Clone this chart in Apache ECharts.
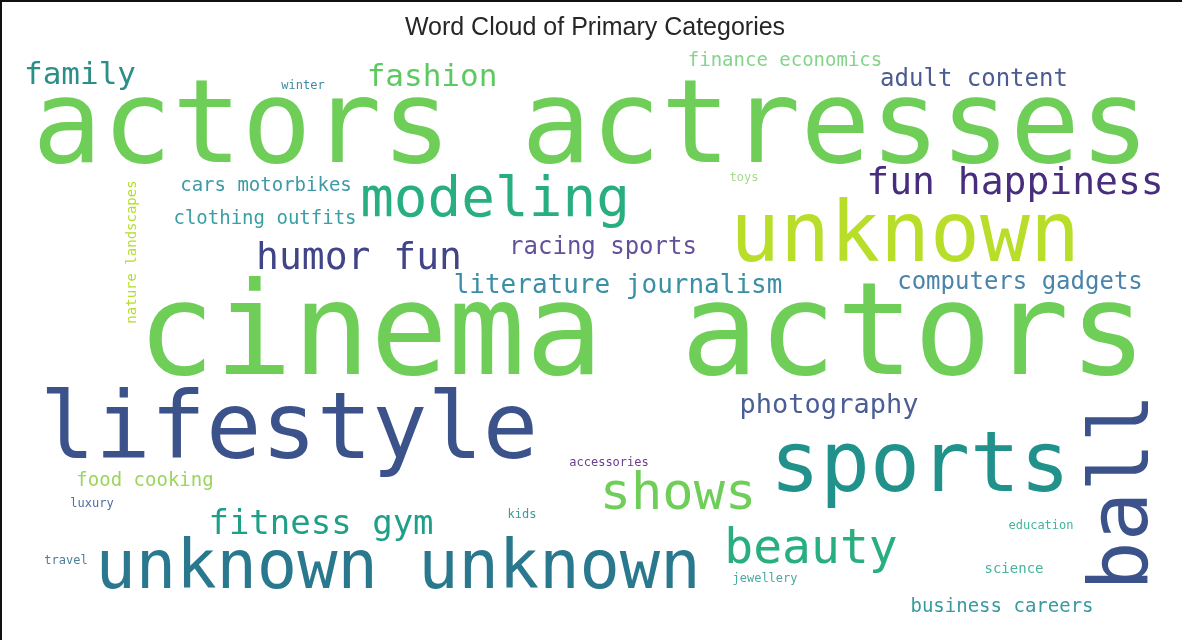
<!DOCTYPE html>
<html>
<head>
<meta charset="utf-8">
<script src="https://cdn.jsdelivr.net/npm/echarts@6/dist/echarts.min.js"></script>
<style>
  html, body { margin: 0; padding: 0; background: #fff; }
  #wrap { position: relative; width: 1182px; height: 640px; overflow: hidden; background: #fff; }
  #chart { position: absolute; left: 0; top: 0; width: 1182px; height: 640px; }
  #bt { position: absolute; left: 0; top: 0; width: 1182px; height: 2px; background: #111; }
  #bl { position: absolute; left: 0; top: 0; width: 2px; height: 640px; background: #111; }
</style>
</head>
<body>
<div id="wrap">
  <div id="chart"></div>
  <div id="bt"></div>
  <div id="bl"></div>
</div>
<script>
// Word cloud content
const words = [
  'actors actresses', 'cinema actors', 'unknown', 'lifestyle', 'sports',
  'unknown unknown', 'ball', 'modeling', 'shows', 'beauty',
  'humor fun', 'fun happiness', 'fitness gym', 'family', 'fashion',
  'literature journalism', 'photography', 'adult content', 'racing sports', 'computers gadgets',
  'finance economics', 'cars motorbikes', 'clothing outfits', 'food cooking', 'business careers',
  'nature landscapes', 'science', 'winter', 'toys', 'accessories',
  'luxury', 'kids', 'education', 'travel', 'jewellery'
];
// relative weight of each word (rendered as font size in px)
const weights = [
  116, 129, 83, 92, 83,
  67, 82, 56, 52, 48,
  38, 38, 34, 31, 31,
  26, 27, 24, 24, 24,
  19, 19, 19, 19, 19,
  14, 14, 12, 12, 12,
  12, 12, 12, 12, 12
];
// cloud layout (placement produced by the word-cloud layout)
const layoutX = [
  591, 642, 905, 289, 920,
  398, 1126, 495, 678, 811,
  359, 1015, 321, 80, 432,
  618, 829, 974, 603, 1020,
  785, 266, 265, 145, 1002,
  132, 1014, 303, 744, 609,
  92, 522, 1041, 66, 765
];
const layoutY = [
  132, 340, 239, 434, 469,
  571, 492, 201, 495, 551,
  259, 184, 525, 76, 78,
  286, 406, 80, 248, 283,
  61, 186, 219, 481, 607,
  252, 569, 86, 178, 463,
  504, 515, 526, 561, 579
];
const rotations = [
  0, 0, 0, 0, 0,
  0, 90, 0, 0, 0,
  0, 0, 0, 0, 0,
  0, 0, 0, 0, 0,
  0, 0, 0, 0, 0,
  90, 0, 0, 0, 0,
  0, 0, 0, 0, 0
];
const colors = [
  '#6ece58', '#6ece58', '#b8de29', '#3b528b', '#21918c',
  '#2a788e', '#3b528b', '#29af7f', '#6ece58', '#29af7f',
  '#414487', '#472d7b', '#1f9e89', '#2a9087', '#5ec962',
  '#3a8fa5', '#4b5e95', '#4a5c91', '#63519a', '#4a84aa',
  '#84d48b', '#3d9aa6', '#3a9ea5', '#9ad65c', '#38999f',
  '#b5de2b', '#45b49a', '#3e8aa6', '#a5db8f', '#6a3d8f',
  '#4f6ea0', '#3f9a98', '#3fb59b', '#4c7e9b', '#4aa9a0'
];

const chart = echarts.init(document.getElementById('chart'), null, { renderer: 'canvas' });

const data = words.map((w, i) => ({
  name: w,
  value: [layoutX[i], layoutY[i], weights[i]],
  label: {
    fontSize: weights[i],
    color: colors[i],
    rotate: rotations[i]
  }
}));

chart.setOption({
  backgroundColor: '#ffffff',
  animation: false,
  title: {
    text: 'Word Cloud of Primary Categories',
    left: 590,
    textAlign: 'center',
    top: 11,
    textStyle: {
      fontFamily: 'Liberation Sans, Arial, sans-serif',
      fontSize: 25,
      fontWeight: 'normal',
      color: '#262626'
    }
  },
  grid: { left: 0, right: 0, top: 0, bottom: 0 },
  xAxis: { type: 'value', min: 0, max: 1182, show: false },
  yAxis: { type: 'value', min: 0, max: 640, inverse: true, show: false },
  series: [{
    type: 'scatter',
    silent: true,
    symbolSize: 0,
    itemStyle: { opacity: 1 },
    data: data,
    label: {
      show: true,
      opacity: 1,
      position: 'inside',
      formatter: p => p.name,
      fontFamily: 'DejaVu Sans Mono',
      align: 'center',
      verticalAlign: 'middle'
    },
    labelLayout: { hideOverlap: false }
  }]
});
</script>
</body>
</html>
